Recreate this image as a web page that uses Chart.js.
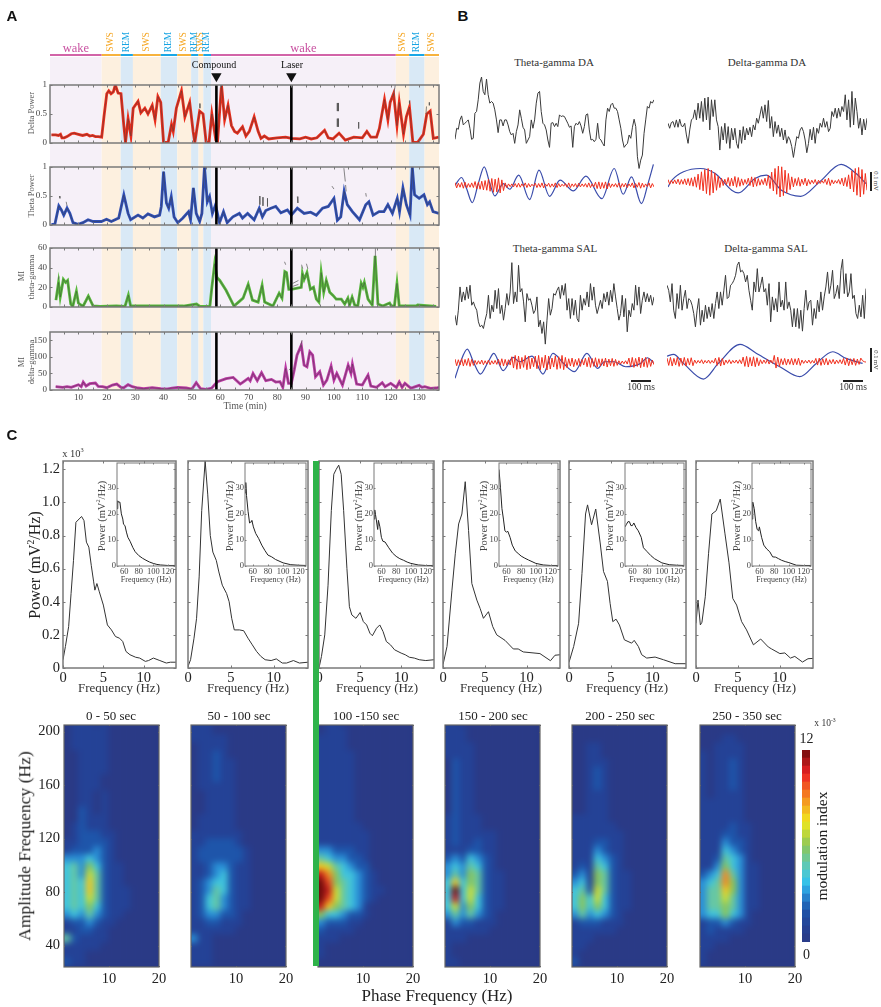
<!DOCTYPE html>
<html>
<head>
<meta charset="utf-8">
<style>
html, body { margin: 0; padding: 0; background: #fff; }
#page { position: relative; width: 881px; height: 1007px; overflow: hidden; }
.t { position: absolute; white-space: nowrap; transform-origin: center; line-height: 1; }
sup { font-size: 60%; line-height: 0; }
</style>
</head>
<body>
<div id="page"></div>
<script src="https://cdn.jsdelivr.net/npm/chart.js@4/dist/chart.umd.min.js"></script>
<script>
// panel A - sleep stages, minutes
var stageNames = ["wake", "SWS", "REM", "SWS", "REM", "SWS", "REM", "SWS", "REM", "wake", "SWS", "REM", "SWS"];
var stageStart = [0, 18.2, 24.9, 29.2, 39, 44.8, 49.7, 52.3, 54, 56.7, 121.8, 126.5, 131.9];
var stageEnd = [18.2, 24.9, 29.2, 39, 44.8, 49.7, 52.3, 54, 56.7, 121.8, 126.5, 131.9, 137];
var eventTimes = [58.6, 85];
var eventNames = ["Compound", "Laser"];
var timeTicks = [5, 10, 15, 20, 25, 30, 35, 40, 45, 50, 55, 60, 65, 70, 75, 80, 85, 90, 95, 100, 105, 110, 115, 120, 125, 130, 135];

var deltaT = [0.5, 2, 3, 3.7, 4.2, 5, 6, 7.5, 8.5, 10, 11.5, 13, 14, 15, 16, 17, 18.2, 19, 20, 20.7, 21.5, 22.3, 23, 24, 25, 26, 26.6, 27.5, 28.5, 29.3, 31, 32, 33.4, 34.5, 36, 37, 38, 39, 40, 41.6, 42.8, 43.4, 44.5, 46.3, 47.5, 49.2, 50.4, 51, 52.7, 53.9, 55, 56, 57, 58.4, 59, 60.4, 61.5, 62.7, 63.9, 65, 66, 67.8, 69, 70.2, 71.9, 73.3, 74.3, 75.5, 77, 80, 83, 85, 88, 90, 92, 94, 96.7, 98, 99.6, 101.8, 104, 107, 110, 111.6, 113, 115, 116, 117.8, 119, 119.8, 121, 122.2, 123, 124.5, 125.5, 126.6, 127.8, 129.5, 131.5, 132.7, 133.9, 135, 136.9];
var deltaV = [0.14, 0.14, 0.13, 0.15, 0.09, 0.09, 0.11, 0.16, 0.17, 0.15, 0.13, 0.15, 0.12, 0.13, 0.11, 0.11, 0.1, 0.45, 0.85, 0.9, 0.85, 0.88, 1, 0.86, 0.85, 0.3, 0.01, 0.42, 0.12, 0.6, 0.72, 0.52, 0.6, 0.5, 0.65, 0.4, 0.8, 0.7, 0.01, 0.01, 0.32, 0.2, 0.6, 0.9, 0.45, 0.7, 0.2, 0.01, 0.55, 0.5, 0.01, 0.01, 0.5, 0.05, 0.02, 1, 0.4, 0.65, 0.3, 0.2, 0.17, 0.28, 0.12, 0.2, 0.45, 0.2, 0.08, 0.12, 0.07, 0.09, 0.1, 0.08, 0.07, 0.1, 0.07, 0.09, 0.22, 0.09, 0.07, 0.17, 0.05, 0.1, 0.09, 0.2, 0.1, 0.1, 0.25, 0.75, 0.4, 0.7, 0.85, 0.3, 0.7, 0.15, 0.45, 0.62, 0.01, 0.01, 0.15, 0.5, 0.55, 0.08, 0.1];
var deltaSpikeT = [101.2, 101.2, null, 101.6, 101.6, null, 101.2, 101.2, null, 101.6, 101.6, null, 108.7, 108.7, null, 121, 121.6, null, 126.6, 126.6, null, 133.6, 133.6, null, 132.4, 132.6, null, 52.8, 52.8];
var deltaSpikeV = [0.69, 0.55, null, 0.69, 0.55, null, 0.42, 0.28, null, 0.42, 0.28, null, 0.36, 0.25, null, 0.82, 1, null, 0.73, 0.68, null, 0.7, 0.65, null, 0.5, 0.63, null, 0.68, 0.6];

var thetaT = [0.5, 1.7, 3.1, 4, 4.85, 6, 7, 8.1, 9.9, 11.6, 13.4, 15.2, 18.1, 19.9, 21.6, 24.2, 26, 27.5, 28.4, 31, 32.7, 34.5, 36.8, 38.6, 39.2, 40, 41, 41.8, 42.7, 43.7, 45, 46.8, 48.8, 49.5, 50.5, 51.5, 52.7, 53.5, 54.4, 55.4, 56.2, 57.2, 58.3, 59.7, 61.1, 62.4, 64.4, 66.7, 67.8, 69.6, 71.9, 73.7, 74.8, 76, 77.8, 79.5, 81.3, 83.6, 85, 87.1, 89.5, 91.8, 93.8, 96, 98, 100, 101.2, 102.4, 103.6, 104.7, 106.5, 109, 111.2, 112.3, 113.8, 115.9, 117.6, 119, 120.6, 122.3, 123.1, 124.3, 125.5, 126.8, 127.6, 128.4, 130, 131.7, 132.9, 133.7, 134.9, 137];
var thetaV = [0.01, 0.01, 0.33, 0.26, 0.17, 0.29, 0.2, 0.04, 0.01, 0.04, 0.09, 0.06, 0.06, 0.1, 0.06, 0.12, 0.52, 0.2, 0.09, 0.17, 0.12, 0.19, 0.14, 0.17, 0.32, 0.92, 0.38, 0.29, 0.49, 0.14, 0.04, 0.12, 0.23, 0.09, 0.64, 0.2, 0.06, 0.2, 1, 0.4, 0.49, 0.2, 0.35, 0.04, 0.23, 0.04, 0.14, 0.2, 0.12, 0.2, 0.09, 0.29, 0.14, 0.25, 0.29, 0.32, 0.21, 0.26, 0.17, 0.29, 0.2, 0.22, 0.17, 0.29, 0.32, 0.46, 0.08, 0.14, 0.58, 0.35, 0.23, 0.09, 0.35, 0.4, 0.17, 0.23, 0.23, 0.35, 0.2, 0.46, 0.23, 0.64, 0.35, 0.17, 1, 0.52, 0.46, 0.52, 0.35, 0.4, 0.23, 0.2];
var thetaSpikeT = [103.5, 104, null, 104.1, 104.3, null, 99.3, 100, null, 73.9, 73.9, null, 75, 75, null, 76.6, 76.6, null, 111.2, 111.4, null, 87.1, 87.3, null, 3.3, 3.5, null, 5.7, 6];
var thetaSpikeV = [0.98, 0.75, null, 0.69, 0.58, null, 0.67, 0.62, null, 0.5, 0.35, null, 0.48, 0.33, null, 0.46, 0.32, null, 0.55, 0.49, null, 0.49, 0.38, null, 0.5, 0.46, null, 0.4, 0.33];

var miThetaT = [2.1, 3, 3.6, 4.7, 5.5, 6.2, 7.3, 8, 9.3, 10, 10.9, 11.7, 13.5, 15.2, 17.6, 23.4, 26.4, 27.6, 28.4, 35, 47, 51.6, 52.8, 56.3, 57, 58, 58.8, 59.8, 62, 64.8, 66.8, 68, 69.8, 71.3, 73.3, 74.7, 75.6, 78.5, 80.7, 81.7, 82.7, 83.3, 84.1, 85, 88.5, 88.9, 89.5, 90.5, 91.7, 92.8, 93.8, 94.7, 95.5, 96.4, 97.3, 98.5, 99.6, 100.8, 102.6, 103.8, 104.9, 105.5, 106.4, 107.3, 108.4, 109.6, 110.2, 110.7, 112, 113.5, 114.5, 115.5, 117.2, 119.6, 120.2, 121.3, 122.2, 123, 129, 129.5, 136];
var miThetaV = [7, 25, 10, 28, 25, 27, 3, 0.5, 16, 4, 2, 1, 11, 1, 0.5, 1, 0.5, 12, 1, 1, 1, 3, 0.5, 0.5, 20, 44, 30, 27, 17, 1, 6, 9, 23, 7, 5, 22, 5, 1, 14, 9, 36, 35, 18, 18, 20, 34, 28, 35, 18, 20, 8, 5, 35, 15, 27, 15, 12, 8, 8, 3, 9, 2, 10, 2, 1, 24, 20, 25, 8, 2, 52, 3, 1, 4, 1, 1, 24, 1, 1, 2, 0.5];
var miThetaSpikeT = [3, 3.2, null, 82.6, 83, null, 88.6, 89, null, 90.3, 90.8, null, 114.5, 114.6, null, 85.5, 87.5, null, 85.5, 87.5];
var miThetaSpikeV = [28, 31, null, 46, 43, null, 43, 39, null, 44, 39, null, 52, 60, null, 24, 27, null, 21, 23];

var miDeltaT = [2, 4.5, 6, 7.5, 9, 10, 11, 11.7, 12.7, 14, 16, 17, 18.5, 20, 22, 23.5, 25, 26, 27.5, 29, 31, 33, 36, 39, 41, 43, 45, 48, 50, 51.5, 53, 55, 57, 58, 59, 62, 64.5, 67, 68, 69.8, 70.5, 71.5, 73, 74.5, 76, 78, 79.5, 81, 82, 83, 84, 85, 86, 87, 88.5, 89.5, 90.5, 91.5, 92.5, 93.5, 95, 96.3, 97.5, 99, 100, 101, 103, 105, 106, 106.5, 108, 110, 112, 113, 115, 117, 118, 120, 122, 123, 124, 125, 127, 128, 130, 131, 132, 134, 136, 137];
var miDeltaV = [10, 8, 10, 8, 13, 16, 10, 24, 12, 19, 21, 11, 10, 7, 15, 18, 8, 7, 16, 10, 6, 4, 7, 4, 3, 6, 8, 6, 3, 22, 4, 2, 6, 16, 25, 34, 38, 18, 24, 35, 28, 50, 28, 52, 28, 32, 24, 25, 8, 65, 20, 20, 60, 105, 135, 75, 70, 115, 105, 40, 55, 15, 30, 72, 30, 50, 15, 75, 50, 78, 18, 15, 45, 12, 8, 22, 10, 20, 8, 24, 8, 20, 6, 8, 14, 8, 10, 5, 6, 8];
var miDeltaSpikeT = [88.2, 88.8, null, 84.2, 84.8];
var miDeltaSpikeV = [130, 150, null, 60, 66];

// panel B - raw traces and the phase (blue) and gamma (red) filtered parts, read top-down off the figure
var blackThetaDA = [298, 265, 268, 240, 228, 255, 250, 245, 240, 265, 298, 295, 220, 215, 180, 130, 112, 155, 165, 118, 165, 190, 185, 190, 210, 240, 278, 240, 240, 258, 240, 240, 255, 275, 285, 280, 310, 275, 255, 210, 235, 262, 270, 310, 300, 290, 240, 265, 240, 190, 160, 155, 215, 250, 255, 270, 300, 322, 250, 248, 260, 250, 260, 225, 230, 228, 230, 240, 250, 262, 258, 322, 260, 250, 255, 245, 258, 280, 260, 225, 222, 270, 300, 298, 305, 298, 250, 295, 300, 310, 318, 240, 205, 215, 195, 190, 205, 205, 215, 240, 265, 300, 322, 315, 310, 285, 295, 262, 238, 260, 350, 385, 360, 345, 280, 240, 200, 205, 185, 190, 180];
var blackDeltaDA = [250, 265, 248, 245, 262, 240, 262, 238, 258, 260, 250, 285, 310, 270, 240, 235, 210, 240, 190, 235, 185, 245, 175, 240, 172, 270, 180, 230, 180, 240, 260, 330, 260, 300, 250, 310, 260, 325, 265, 300, 265, 310, 325, 270, 310, 260, 300, 265, 285, 262, 290, 255, 270, 235, 250, 225, 200, 235, 195, 245, 182, 265, 230, 290, 245, 280, 255, 290, 265, 300, 270, 310, 290, 300, 320, 352, 320, 290, 295, 270, 262, 275, 300, 338, 310, 268, 300, 262, 310, 265, 280, 250, 262, 235, 262, 245, 275, 265, 215, 230, 205, 235, 205, 230, 200, 215, 165, 240, 180, 262, 155, 255, 175, 215, 265, 235, 285, 238, 270, 235];
var blackThetaSAL = [255, 285, 240, 170, 215, 185, 210, 170, 205, 165, 225, 215, 230, 240, 275, 290, 285, 295, 270, 250, 195, 265, 225, 245, 180, 235, 175, 250, 225, 270, 235, 190, 225, 185, 97, 220, 185, 215, 105, 185, 175, 215, 275, 190, 210, 205, 225, 250, 240, 200, 290, 270, 310, 275, 342, 270, 205, 255, 235, 190, 195, 180, 170, 205, 165, 195, 160, 240, 205, 265, 205, 255, 210, 265, 275, 195, 240, 205, 225, 185, 230, 160, 210, 170, 225, 250, 230, 210, 235, 190, 215, 185, 225, 180, 215, 160, 200, 235, 270, 250, 195, 260, 205, 305, 240, 260, 220, 240, 165, 225, 170, 250, 210, 185, 215, 190, 215, 195, 225, 200];
var blackDeltaSAL = [165, 180, 215, 160, 240, 265, 190, 235, 165, 240, 205, 180, 235, 205, 210, 225, 250, 290, 240, 205, 285, 240, 275, 225, 265, 230, 260, 220, 265, 220, 185, 235, 185, 225, 180, 135, 205, 200, 165, 160, 150, 135, 105, 95, 125, 120, 130, 155, 135, 180, 210, 240, 155, 185, 115, 185, 165, 140, 185, 175, 225, 160, 275, 200, 240, 205, 245, 155, 230, 210, 240, 155, 235, 215, 240, 290, 235, 290, 235, 295, 240, 303, 235, 180, 240, 215, 210, 285, 235, 265, 210, 245, 185, 240, 200, 170, 125, 190, 165, 120, 205, 190, 165, 205, 120, 87, 190, 130, 200, 185, 130, 205, 195, 250, 265, 225, 260, 195, 265, 175];

var blueThetaDAms = [0, 33, 58, 87, 117, 147, 175, 200, 242, 275, 320, 375, 422, 475, 528, 595, 658, 738, 800, 845, 887, 937, 970, 997];
var blueThetaDA = [435, 412, 445, 487, 430, 380, 430, 467, 430, 447, 405, 478, 390, 468, 420, 452, 408, 475, 385, 462, 410, 490, 430, 373];
var blueDeltaDAms = [0, 20, 78, 162, 237, 320, 353, 437, 495, 570, 667, 762, 870, 945, 995];
var blueDeltaDA = [440, 420, 395, 385, 400, 450, 458, 415, 405, 450, 468, 425, 373, 400, 430];
var blueThetaSALms = [0, 25, 62, 92, 128, 167, 195, 242, 292, 325, 387, 442, 492, 542, 600, 663, 717, 750, 800, 858, 933, 967, 997];
var blueThetaSAL = [445, 400, 357, 395, 432, 395, 370, 422, 382, 395, 378, 432, 370, 398, 425, 370, 415, 395, 395, 410, 400, 383, 397];
var blueDeltaSALms = [0, 33, 83, 183, 258, 367, 450, 567, 667, 750, 833, 900, 983];
var blueDeltaSAL = [378, 373, 400, 447, 400, 343, 370, 410, 440, 400, 365, 385, 400];

var redThetaDA = [427, 443, 429, 441, 427, 444, 426, 443, 430, 441, 428, 442, 424, 446, 426, 447, 423, 449, 421, 450, 417, 453, 415, 456, 417, 455, 413, 458, 419, 451, 428, 442, 431, 439, 431, 440, 430, 441, 429, 441, 431, 439, 428, 442, 430, 440, 432, 438, 429, 442, 430, 441, 428, 443, 431, 438, 429, 441, 431, 440, 428, 442, 430, 440, 432, 438, 430, 441, 428, 442, 431, 439, 430, 441, 429, 440, 431, 439, 430, 441, 428, 442, 431, 440, 426, 445, 425, 446, 427, 444, 425, 446, 428, 442, 431, 439, 430, 441, 428, 443, 430, 440, 429, 442, 431, 439, 428, 443, 430, 441, 427, 444, 429, 441, 431, 439, 428, 443, 430, 440];
var redDeltaDA = [418, 432, 420, 430, 419, 431, 417, 433, 418, 432, 416, 434, 415, 436, 413, 438, 410, 441, 402, 448, 395, 452, 388, 460, 385, 465, 390, 458, 398, 450, 408, 442, 414, 436, 417, 433, 412, 438, 414, 437, 409, 441, 412, 438, 416, 435, 418, 432, 414, 436, 410, 440, 412, 438, 415, 435, 418, 433, 414, 436, 405, 445, 396, 452, 385, 462, 378, 470, 380, 466, 390, 458, 400, 448, 410, 440, 415, 436, 412, 438, 417, 433, 414, 437, 418, 432, 420, 430, 418, 433, 420, 430, 421, 429, 417, 433, 414, 436, 419, 431, 421, 429, 418, 432, 414, 437, 412, 439, 404, 446, 392, 455, 385, 465, 382, 470, 388, 462, 400, 450];
var redThetaSAL = [387, 407, 389, 405, 386, 408, 388, 406, 385, 409, 388, 406, 391, 403, 392, 402, 390, 404, 392, 402, 390, 404, 392, 402, 391, 403, 388, 406, 386, 408, 388, 406, 389, 405, 380, 414, 376, 418, 378, 416, 382, 412, 376, 419, 378, 416, 384, 410, 378, 416, 376, 419, 382, 413, 375, 420, 378, 417, 384, 411, 377, 418, 380, 415, 376, 419, 382, 413, 386, 408, 384, 410, 388, 406, 385, 409, 388, 405, 384, 410, 382, 412, 385, 409, 383, 411, 386, 408, 386, 408, 384, 411, 387, 407, 385, 409, 388, 406, 392, 402, 393, 401, 392, 402, 384, 410, 382, 412, 385, 409, 381, 413, 384, 410, 382, 412, 385, 409, 390, 404];
var redDeltaSAL = [384, 406, 382, 408, 385, 405, 381, 409, 384, 406, 382, 408, 385, 405, 383, 407, 390, 400, 391, 399, 389, 401, 391, 399, 390, 400, 391, 399, 384, 406, 382, 408, 385, 405, 390, 400, 389, 401, 391, 399, 390, 400, 389, 401, 381, 409, 379, 411, 382, 408, 380, 410, 383, 407, 389, 401, 390, 400, 388, 402, 390, 400, 376, 414, 381, 409, 386, 404, 385, 405, 387, 403, 385, 405, 386, 404, 384, 406, 390, 400, 391, 399, 390, 400, 391, 399, 385, 405, 384, 406, 386, 404, 385, 405, 389, 401, 388, 402, 390, 400, 389, 401, 385, 405, 384, 407, 386, 404, 385, 406, 387, 403, 384, 392, 395, 396];

// panel C - power spectra, frequency in Hz and power in 10^3 mV2/Hz
var specFreq0 = [0, 0.3, 0.7, 1, 1.3, 1.6, 2, 2.3, 2.6, 2.9, 3.2, 3.5, 3.8, 3.95, 4.2, 4.5, 5, 5.5, 6, 6.5, 7, 7.4, 7.8, 8.3, 9, 9.5, 10.2, 10.6, 11.2, 12, 12.8, 13.3, 14];
var specPow0 = [0.05, 0.13, 0.25, 0.45, 0.65, 0.88, 0.9, 0.915, 0.89, 0.76, 0.73, 0.62, 0.52, 0.47, 0.51, 0.46, 0.38, 0.26, 0.23, 0.19, 0.18, 0.16, 0.1, 0.08, 0.065, 0.06, 0.04, 0.045, 0.06, 0.045, 0.03, 0.035, 0.035];
var specFreq1 = [0, 0.3, 0.7, 1, 1.3, 1.6, 2, 2.3, 2.6, 2.9, 3.3, 3.6, 4, 4.5, 4.8, 5.1, 5.4, 6, 6.5, 7, 7.5, 8, 8.5, 9, 9.7, 10.3, 11, 11.5, 12.3, 13, 14];
var specPow1 = [0.01, 0.05, 0.18, 0.3, 0.55, 0.95, 1.25, 1.05, 0.8, 0.7, 0.65, 0.58, 0.5, 0.45, 0.4, 0.3, 0.23, 0.23, 0.225, 0.18, 0.14, 0.1, 0.07, 0.05, 0.045, 0.055, 0.03, 0.03, 0.045, 0.03, 0.035];
var specFreq2 = [0, 0.3, 0.7, 1.1, 1.5, 1.8, 2.1, 2.4, 2.7, 3, 3.4, 3.7, 4, 4.5, 5, 5.4, 5.8, 6.2, 6.5, 7, 7.4, 7.8, 8.2, 8.7, 9.2, 10, 10.5, 11, 11.6, 12.2, 13, 14];
var specPow2 = [0, 0.07, 0.2, 0.5, 0.95, 1.17, 1.2, 1.225, 1.17, 0.95, 0.6, 0.37, 0.32, 0.3, 0.335, 0.28, 0.26, 0.21, 0.195, 0.24, 0.26, 0.22, 0.16, 0.14, 0.11, 0.09, 0.08, 0.065, 0.06, 0.05, 0.045, 0.05];
var specFreq3 = [0, 0.48, 1.07, 1.47, 1.87, 2.26, 2.66, 3.06, 3.45, 4.05, 4.44, 4.84, 5.44, 5.95, 6.43, 7.42, 8.41, 9, 9.6, 11.6, 12.86, 13.4, 14];
var specPow3 = [0.02, 0.13, 0.47, 0.69, 0.87, 0.93, 1.125, 0.83, 0.51, 0.41, 0.36, 0.3, 0.34, 0.25, 0.2, 0.167, 0.115, 0.115, 0.097, 0.087, 0.044, 0.077, 0.08];
var specFreq4 = [0, 0.56, 1.15, 1.55, 1.98, 2.22, 2.7, 3.2, 3.73, 4.13, 4.6, 4.92, 5.24, 5.63, 6.03, 6.63, 7.5, 7.8, 8.3, 8.7, 9.3, 10.3, 11.3, 12.7, 14];
var specPow4 = [0.034, 0.13, 0.27, 0.57, 0.93, 0.985, 0.865, 0.96, 0.755, 0.583, 0.523, 0.39, 0.28, 0.295, 0.26, 0.17, 0.15, 0.167, 0.13, 0.08, 0.06, 0.066, 0.05, 0.026, 0.026];
var specFreq5 = [0, 0.24, 0.52, 0.71, 1.11, 1.5, 1.9, 2.42, 2.9, 3.47, 3.95, 4.4, 4.86, 5.46, 6.05, 6.87, 7.74, 8.65, 9.05, 10.04, 10.63, 11.3, 11.82, 12.74, 13.4, 14];
var specPow5 = [0.27, 0.41, 0.26, 0.276, 0.43, 0.69, 0.93, 0.95, 1.02, 0.81, 0.635, 0.42, 0.38, 0.28, 0.23, 0.14, 0.175, 0.127, 0.115, 0.087, 0.091, 0.06, 0.07, 0.036, 0.056, 0.058];

// inset spectra, 50-130 Hz
var insetFreq0 = [50, 51, 52, 54, 56, 58, 59, 61, 63, 65, 68, 72, 75, 80, 85, 90, 95, 100, 105, 110, 120, 130];
var insetPow0 = [22, 25, 24.5, 24.5, 20, 18, 16, 15.5, 13, 11, 9.5, 7, 5.5, 4, 3, 2.2, 1.5, 1, 0.6, 0.4, 0.2, 0.2];
var insetFreq1 = [50, 51, 52, 54, 56, 58, 59, 61, 64, 68, 72, 76, 80, 85, 90, 100, 110, 120, 130];
var insetPow1 = [28, 32, 27, 21, 16.5, 17, 17.5, 15, 12.5, 10.5, 8, 6, 4.2, 3.5, 2.5, 1.2, 0.5, 0.3, 0.2];
var insetFreq2 = [50, 51, 53, 55, 56, 58, 60, 62, 65, 70, 75, 80, 85, 90, 95, 100, 110, 120, 130];
var insetPow2 = [18, 21.5, 18, 14, 17.5, 15, 11, 9.5, 9.2, 7, 5, 3.7, 2.8, 2.2, 1.5, 1, 0.4, 0.2, 0.2];
var insetFreq3 = [50, 52, 54, 56, 58, 60, 62, 65, 68, 72, 76, 80, 85, 90, 100, 110, 120, 130];
var insetPow3 = [37, 30, 22, 18, 13.5, 13, 13.3, 11, 8, 5.8, 4.8, 3.8, 3, 2.3, 1, 0.4, 0.2, 0.2];
var insetFreq4 = [50, 52, 54, 56, 58, 60, 62, 65, 68, 72, 75, 80, 85, 90, 100, 110, 120, 130];
var insetPow4 = [15, 16, 17, 17, 15.5, 15.5, 16.5, 14.7, 13.5, 11, 7, 5.5, 4, 2.8, 1.2, 0.5, 0.3, 0.2];
var insetFreq5 = [50, 51, 53, 55, 57, 59, 60, 63, 66, 70, 74, 78, 82, 86, 90, 95, 100, 110, 120, 130];
var insetPow5 = [18, 24.5, 22, 17, 14, 13.5, 15, 11, 8, 6.5, 5.5, 3.5, 3.4, 2.8, 2.2, 1.7, 1.3, 0.3, 0.2, 0.2];

// comodulograms, one character per cell (0-c = modulation index x 10^-3)
var heatCols = [1, 2.5, 4, 5.5, 7, 8.5, 10, 11.5, 13, 14.5, 16, 17.5, 19];
var heatTopHz = 210;
var heatStepHz = 6;
var heat0 = ["0111010000000", "0111110000000", "0111110000000", "0111110000000", "0011110000000", "0011110000000", "0011110000000", "0011100000000", "0011100000000", "0011010000000", "0011010000000", "0021010000000", "0021110000000", "0121110000000", "0122211000000", "1122221000000", "1222321000000", "3334321000000", "4536421100000", "4537521100000", "4548521100000", "4548521110000", "4547521110000", "4546421110000", "3435321100000", "1223211000000", "1122110000000", "5211110000000", "1111100000000", "1110000000000", "2110000000000"];
var heat1 = ["1110000000000", "1110000000000", "1111100000000", "0111100000000", "0112100000000", "0112110000000", "0112110000000", "0112110000000", "0111110000000", "0011110000000", "0011110000000", "0011110000000", "0111110000000", "0111110000000", "1111111000000", "1122221000000", "1222222100000", "1222222100000", "1123321100000", "1123421100000", "1234421100000", "1235421100000", "1245321100000", "1245321100000", "1233221000000", "1122111000000", "1111110000000", "3110000000000", "1110000000000", "1110000000000", "1110000000000"];
var heat2 = ["0110000000000", "0111000000000", "1111000000000", "1111000000000", "1111100000000", "1111100000000", "1111100000000", "1111100000000", "1111100000000", "1111100000000", "1111100000000", "1111100000000", "1111100000000", "1111110000000", "1111111000000", "1111111000000", "3322211000000", "5433221000000", "8754322000000", "b964432100000", "ca65432100000", "cb75432110000", "ca75432100000", "b865431000000", "6443221000000", "3222110000000", "2111100000000", "1110000000000", "1000000000000", "1000000000000", "0000000000000"];
var heat3 = ["1100000000000", "1110000000000", "1110000000000", "1111000000000", "1111000000000", "0211000000000", "0211000000000", "0211000000000", "0211000000000", "0211000000000", "0211000000000", "0211000000000", "1211100000000", "1211100000000", "1211111000000", "1211211000000", "1112211000000", "2324321000000", "3435421000000", "3536521100000", "4846521100000", "4c47521100000", "4b47421100000", "4736421100000", "3535321000000", "1322111000000", "1111110000000", "1110000000000", "1000000000000", "1000000000000", "1100000000000"];
var heat4 = ["0000000000000", "0000000000000", "0000000000000", "0011000000000", "0011000000000", "0011100000000", "0012100000000", "0012100000000", "0012100000000", "0011100000000", "0011100000000", "0011100000000", "1111100000000", "1111110000000", "1111111000000", "1112211000000", "1113211000000", "1114321000000", "1215421000000", "2316521100000", "3416521100000", "4527521100000", "4647421100000", "4646421100000", "3534321000000", "1222111000000", "1111110000000", "1110000000000", "1100000000000", "1000000000000", "2000000000000"];
var heat5 = ["0000000000000", "0000000000000", "0001100000000", "0011110000000", "1011110000000", "1011210000000", "1011210000000", "1011210000000", "1011210000000", "1011110000000", "1111110000000", "1111110000000", "1111110000000", "1111211000000", "1112211000000", "1113221000000", "1114321000000", "1125431000000", "1136431100000", "2349531100000", "3459631100000", "3558631100000", "3557531100000", "3556531100000", "3446431000000", "1223211000000", "1211110000000", "1111000000000", "1100000000000", "1000000000000", "1000000000000"];
var heatTitles = ["0 - 50 sec", "50 - 100 sec", "100 -150 sec", "150 - 200 sec", "200 - 250 sec", "250 - 350 sec"];

var cmapStops = [0, 1, 2, 3, 3.6, 4.5, 6, 7.5, 9, 10.5, 12];
var cmapColors = [[42, 58, 134], [36, 66, 150], [30, 85, 170], [42, 143, 214], [48, 192, 238], [85, 201, 200], [140, 198, 90], [240, 232, 30], [245, 138, 32], [236, 32, 36], [110, 13, 13]];
var colorbarLevels = [0, 0.5, 1, 1.5, 2, 2.5, 3, 3.5, 4, 4.5, 5, 5.5, 6, 6.5, 7, 7.5, 8, 8.5, 9, 9.5, 10, 10.5, 11, 11.5];

var page = document.getElementById('page');
var serif = '"Liberation Serif", serif';

function txt(html, x, y, o) {
    o = o || {};
    var d = document.createElement('div');
    d.className = 't';
    d.innerHTML = html;
    d.style.left = x + 'px';
    d.style.top = y + 'px';
    d.style.fontFamily = o.family || serif;
    d.style.fontSize = o.size + 'px';
    d.style.color = o.color || '#222';
    if (o.weight) d.style.fontWeight = o.weight;
    d.style.transform = 'translate(-50%,-50%) rotate(' + (o.rot || 0) + 'deg)';
    page.appendChild(d);
}

function xy(xs, ys) {
    return xs.map(function(x, i) { return { x: x, y: ys[i] }; });
}

// evenly spaced samples along a 1000 ms window
function samples(ys) {
    return ys.map(function(y, i) { return { x: i / (ys.length - 1) * 1000, y: y }; });
}

function line(data, color, width, extra) {
    return Object.assign({ data: data, borderColor: color, borderWidth: width, pointRadius: 0, fill: false, tension: 0, spanGaps: false }, extra || {});
}

// inward tick marks and the plot box
Chart.register({
    id: 'frame',
    afterDatasetsDraw: function(chart, args, opts) {
        var a = chart.chartArea, c = chart.ctx;
        c.save();
        c.strokeStyle = opts.color || '#777';
        c.lineWidth = 1;
        c.beginPath();
        chart.scales.x.ticks.forEach(function(t) {
            var p = Math.round(chart.scales.x.getPixelForValue(t.value)) + 0.5;
            c.moveTo(p, a.bottom); c.lineTo(p, a.bottom - opts.tick);
            c.moveTo(p, a.top); c.lineTo(p, a.top + opts.tick);
        });
        chart.scales.y.ticks.forEach(function(t) {
            var p = Math.round(chart.scales.y.getPixelForValue(t.value)) + 0.5;
            c.moveTo(a.left, p); c.lineTo(a.left + opts.tick, p);
            c.moveTo(a.right, p); c.lineTo(a.right - opts.tick, p);
        });
        c.stroke();
        c.lineWidth = opts.width || 1.5;
        c.strokeRect(a.left, a.top, a.right - a.left, a.bottom - a.top);
        c.restore();
    }
});

function axis(min, max, tickVals, o) {
    o = o || {};
    return {
        type: 'linear', min: min, max: max,
        afterBuildTicks: function(s) { s.ticks = tickVals.map(function(v) { return { value: v }; }); },
        grid: { display: false, drawTicks: false },
        border: { display: false },
        ticks: {
            display: o.labels !== false, autoSkip: false, maxRotation: 0, padding: o.pad || 2,
            font: { family: serif, size: o.size || 9 }, color: o.color || '#444',
            callback: o.fmt || function(v) { return v; }
        }
    };
}

function hidden(min, max, reverse) {
    return { type: 'linear', display: false, min: min, max: max, reverse: !!reverse };
}

// box = [left, top, right, bottom] of the plot area, m = margins [l, t, r, b] for the labels
function addChart(box, m, datasets, scales, frame, type, labels, plugins) {
    var c = document.createElement('canvas');
    c.width = box[2] - box[0] + m[0] + m[2];
    c.height = box[3] - box[1] + m[1] + m[3];
    c.style.position = 'absolute';
    c.style.left = (box[0] - m[0]) + 'px';
    c.style.top = (box[1] - m[1]) + 'px';
    page.appendChild(c);
    scales.x.afterFit = function(s) { s.height = m[3]; s.paddingLeft = 0; s.paddingRight = 0; };
    scales.y.afterFit = function(s) { s.width = m[0]; s.paddingTop = 0; s.paddingBottom = 0; };
    var data = { datasets: datasets };
    if (labels) data.labels = labels;
    return new Chart(c, {
        type: type || 'line',
        data: data,
        plugins: plugins || [],
        options: {
            responsive: false, animation: false, devicePixelRatio: 1,
            layout: { autoPadding: false, padding: { top: m[1], right: m[2], left: 0, bottom: 0 } },
            plugins: { legend: { display: false }, tooltip: { enabled: false }, frame: frame || false },
            scales: scales
        }
    });
}

/* ---------- panel A ---------- */
var stageFill = { wake: '#f6f0f8', SWS: '#fdf0df', REM: '#d9e9f6' };
var stageEdge = { wake: '#d264a8', SWS: '#f7b23c', REM: '#1aa7e6' };
var stageText = { wake: '#c850a0', SWS: '#f5a623', REM: '#18a4e2' };

var stageBands = {
    id: 'stageBands',
    beforeDatasetsDraw: function(chart) {
        var a = chart.chartArea, c = chart.ctx, s = chart.scales.x;
        stageNames.forEach(function(n, i) {
            var l = s.getPixelForValue(stageStart[i]), r = s.getPixelForValue(stageEnd[i]);
            c.fillStyle = stageFill[n];
            c.fillRect(l, a.top + 3, r - l, a.bottom - a.top - 3);
            c.fillStyle = stageEdge[n];
            c.fillRect(l, a.top, r - l, 2);
        });
    }
};
var stageChart = addChart([50, 54, 439, 390], [0, 0, 0, 0], [
    { type: 'scatter', data: eventTimes.map(function(t) { return { x: t, y: 0.934 }; }), pointStyle: 'triangle', pointRadius: 6, pointRotation: 180, pointBackgroundColor: '#111', pointBorderWidth: 0, showLine: false }
], { x: hidden(0, 137), y: hidden(0, 1) }, false, 'line', null, [stageBands]);

stageNames.forEach(function(n, i) {
    var x = stageChart.scales.x.getPixelForValue((stageStart[i] + stageEnd[i]) / 2) + 50;
    if (n == 'wake') txt(n, x, 48, { size: 12.5, color: stageText[n] });
    else txt(n, x, 42, { size: 9.5, color: stageText[n], rot: -90 });
});
txt(eventNames[0], 214, 64.5, { size: 10, color: '#111' });
txt(eventNames[1], 292, 64.5, { size: 10, color: '#111' });

function sleepPlot(box, t, v, st, sv, color, yMax, yTicks, showTime) {
    var sets = [
        line([{ x: eventTimes[0], y: 0 }, { x: eventTimes[0], y: yMax }], '#000', 2.6),
        line([{ x: eventTimes[1], y: 0 }, { x: eventTimes[1], y: yMax }], '#000', 2.6),
        line(xy(st, sv), '#555', 0.7),
        line(xy(t, v), 'rgba(60,60,60,0.75)', 0.6),
        line(xy(t, v), color, 2.8)
    ];
    return addChart(box, [40, 6, 2, 14], sets, {
        x: axis(0, 137, timeTicks, { labels: showTime, size: 9, pad: 2, fmt: function(x) { return x % 10 ? '' : x; } }),
        y: axis(0, yMax, yTicks, { size: 9, pad: 3 })
    }, { color: '#7a7a7a', tick: 2.5, width: 1.5 });
}

sleepPlot([50, 85, 439, 143], deltaT, deltaV, deltaSpikeT, deltaSpikeV, '#ea2e1c', 1, [0, 0.5, 1], false);
sleepPlot([50, 167, 439, 225], thetaT, thetaV, thetaSpikeT, thetaSpikeV, '#2f4fb8', 1, [0, 0.5, 1], false);
sleepPlot([50, 248, 439, 307], miThetaT, miThetaV, miThetaSpikeT, miThetaSpikeV, '#58b83c', 60, [0, 20, 40, 60], false);
sleepPlot([50, 332, 439, 390], miDeltaT, miDeltaV, miDeltaSpikeT, miDeltaSpikeV, '#bb3aa5', 175, [0, 50, 100, 150], true);

var aLabel = { size: 8.5, color: '#555', rot: -90 };
txt('Delta Power', 30.5, 113, aLabel);
txt('Theta Power', 30.5, 196, aLabel);
txt('MI', 21, 276, aLabel);
txt('theta-gamma', 30.5, 277, aLabel);
txt('MI', 21, 362, aLabel);
txt('delta-gamma', 30.5, 362, aLabel);
txt('Time (min)', 245, 407, { size: 9.5, color: '#555' });

/* ---------- panel B ---------- */
function tracePlot(box, yMin, yMax, black, blueMs, blue, red) {
    addChart(box, [0, 0, 0, 0], [
        line(samples(red), '#f0301e', 1),
        line(xy(blueMs, blue), '#3a4cab', 1.2, { cubicInterpolationMode: 'monotone' }),
        line(samples(black), '#3a3a3a', 1)
    ], { x: hidden(0, 1000), y: hidden(yMin, yMax, true) });
}
tracePlot([455, 73, 654, 207], 100, 500, blackThetaDA, blueThetaDAms, blueThetaDA, redThetaDA);
tracePlot([668, 73, 867, 207], 100, 500, blackDeltaDA, blueDeltaDAms, blueDeltaDA, redDeltaDA);
tracePlot([455, 257, 654, 390], 80, 480, blackThetaSAL, blueThetaSALms, blueThetaSAL, redThetaSAL);
tracePlot([667, 257, 866, 390], 80, 480, blackDeltaSAL, blueDeltaSALms, blueDeltaSAL, redDeltaSAL);

var bTitle = { size: 11, color: '#333' };
txt('Theta-gamma DA', 554, 62, bTitle);
txt('Delta-gamma DA', 767, 62, bTitle);
txt('Theta-gamma SAL', 555, 248, bTitle);
txt('Delta-gamma SAL', 766, 248, bTitle);

function scaleBar(l, t, w, h) {
    var d = document.createElement('div');
    d.style.cssText = 'position:absolute;background:#222;left:' + l + 'px;top:' + t + 'px;width:' + w + 'px;height:' + h + 'px';
    page.appendChild(d);
}
scaleBar(870, 172, 1.5, 19);
scaleBar(870, 348, 1.5, 24);
scaleBar(631, 380, 20, 1.5);
scaleBar(843, 380, 20, 1.5);
txt('0.1 mV', 876, 181, { size: 6.5, color: '#333', rot: 90 });
txt('0.1 mV', 876, 360, { size: 6.5, color: '#333', rot: 90 });
txt('100 ms', 641, 388, { size: 9.5, color: '#333' });
txt('100 ms', 853, 388, { size: 9.5, color: '#333' });

/* ---------- panel C, spectra ---------- */
var specBoxes = [[63, 461, 176, 668], [188, 461, 308, 668], [319, 461, 434, 668], [443, 461, 560, 668], [569, 461, 686, 668], [696, 461, 813, 668]];
var insetBoxes = [[117, 463, 175, 566], [245, 463, 306, 566], [374, 463, 433, 566], [499, 463, 558, 566], [625, 463, 684, 566], [752, 463, 811, 566]];
var specF = [specFreq0, specFreq1, specFreq2, specFreq3, specFreq4, specFreq5];
var specP = [specPow0, specPow1, specPow2, specPow3, specPow4, specPow5];
var insetF = [insetFreq0, insetFreq1, insetFreq2, insetFreq3, insetFreq4, insetFreq5];
var insetP = [insetPow0, insetPow1, insetPow2, insetPow3, insetPow4, insetPow5];
var specLabelX = [119, 248, 377, 501, 627, 755];

specBoxes.forEach(function(b, i) {
    addChart(b, [40, 2, 2, 18], [line(xy(specF[i], specP[i]), '#333', 1)], {
        x: axis(0, 14, [0, 5, 10], { size: 14.5, color: '#222', pad: 1 }),
        y: axis(0, 1.25, [0, 0.2, 0.4, 0.6, 0.8, 1, 1.2], { labels: i == 0, size: 14.5, color: '#222', pad: 3, fmt: function(v) { return v == 0 ? '0' : v.toFixed(1); } })
    }, { color: '#7a7a7a', tick: 2.5, width: 1.5 });
    var ib = insetBoxes[i];
    addChart(ib, [14, 1, 1, 11], [line(xy(insetF[i], insetP[i]), '#222', 1)], {
        x: axis(50, 130, [60, 80, 100, 120], { size: 8.5, pad: 1 }),
        y: axis(0, 39.5, [0, 10, 20, 30], { size: 8.5, pad: 1 })
    }, { color: '#7a7a7a', tick: 1.5, width: 1 });
    txt('Power (mV<sup>2</sup>/Hz)', ib[0] - 15.5, 516, { size: 10.5, color: '#444', rot: -90 });
    txt('Frequency (Hz)', (ib[0] + ib[2]) / 2, 579.5, { size: 8, color: '#444' });
    txt('Frequency (Hz)', specLabelX[i], 687, { size: 13, color: '#333' });
});
txt('Power (mV<sup>2</sup>/Hz)', 35, 565, { size: 16, color: '#222', rot: -90 });
txt('x 10<sup>3</sup>', 73, 454, { size: 10.5, color: '#333' });

/* ---------- panel C, comodulograms ---------- */
function heatColor(v) {
    for (var i = 1; i < cmapStops.length; i++) {
        if (v <= cmapStops[i]) {
            var f = (v - cmapStops[i - 1]) / (cmapStops[i] - cmapStops[i - 1]);
            var a = cmapColors[i - 1], b = cmapColors[i];
            return 'rgb(' + [0, 1, 2].map(function(k) { return Math.round(a[k] + (b[k] - a[k]) * f); }).join(',') + ')';
        }
    }
    return 'rgb(110,13,13)';
}

var heats = [heat0, heat1, heat2, heat3, heat4, heat5];
var heatLefts = [64, 191, 318, 445, 572, 700];
var heatTitleX = [111, 239, 366, 493, 620, 747];

heats.forEach(function(rows, p) {
    var left = heatLefts[p], top = 725, w = 95, h = 242;
    var wrap = document.createElement('div');
    wrap.style.cssText = 'position:absolute;overflow:hidden;background:#2a3a86;left:' + left + 'px;top:' + top + 'px;width:' + w + 'px;height:' + h + 'px';
    page.appendChild(wrap);
    var labels = [0].concat(heatCols);
    var sets = rows.map(function(row, i) {
        var hi = heatTopHz - i * heatStepHz;
        var cells = (row.charAt(0) + row).split('').map(function(ch) { return parseInt(ch, 13); });
        return {
            data: cells.map(function() { return [hi - heatStepHz, hi]; }),
            backgroundColor: cells.map(heatColor),
            grouped: false, barPercentage: 1, categoryPercentage: 1, borderWidth: 0
        };
    });
    // one column repeated on the left so the blur does not eat the edge of the map
    var ch = addChart([left - 8, top - 7, left - 8 + 105, top - 7 + 248], [0, 0, 0, 0], sets, {
        x: { type: 'category', display: false },
        y: hidden(24, 210)
    }, false, 'bar', labels);
    var cv = ch.canvas;
    cv.style.left = '-8px';
    cv.style.top = '-7px';
    cv.style.filter = 'blur(3px)';
    wrap.appendChild(cv);

    addChart([left, top, left + w, top + h], [40, 2, 12, 18], [], {
        x: axis(1, 20, [10, 20], { size: 14.5, color: '#222', pad: 3 }),
        y: axis(24, 205, [40, 80, 120, 160, 200], { labels: p == 0, size: 14.5, color: '#222', pad: 4 })
    }, { color: '#666', tick: 1, width: 1.2 });
    txt(heatTitles[p], heatTitleX[p], 714.5, { size: 13, color: '#222' });
});

var barSets = colorbarLevels.map(function(v) {
    return { data: [[v, v + 0.5]], backgroundColor: heatColor(v + 0.25), grouped: false, barPercentage: 1, categoryPercentage: 1, borderWidth: 0 };
});
addChart([802, 750, 810, 942], [0, 0, 0, 0], barSets, {
    x: { type: 'category', display: false },
    y: hidden(0, 12)
}, false, 'bar', ['mi']);
txt('12', 806.5, 739, { size: 14, color: '#222' });
txt('0', 806.5, 955, { size: 14, color: '#222' });
txt('x 10<sup>-3</sup>', 825, 724, { size: 9.5, color: '#333' });
txt('modulation index', 822, 846, { size: 15.5, color: '#222', rot: -90 });
txt('Amplitude Frequency (Hz)', 25, 846, { size: 17.5, color: '#222', rot: -90 });
txt('Phase Frequency (Hz)', 437, 995, { size: 17, color: '#222' });

// green divider between 100 s and the earlier windows
var divider = document.createElement('div');
divider.style.cssText = 'position:absolute;left:313px;top:461px;width:5.5px;height:505px;background:#2fb34a';
page.appendChild(divider);

var panelFont = { size: 15, weight: 'bold', color: '#111', family: '"Liberation Sans", sans-serif' };
txt('A', 12, 15, panelFont);
txt('B', 463, 15, panelFont);
txt('C', 12, 434, panelFont);
</script>
</body>
</html>
